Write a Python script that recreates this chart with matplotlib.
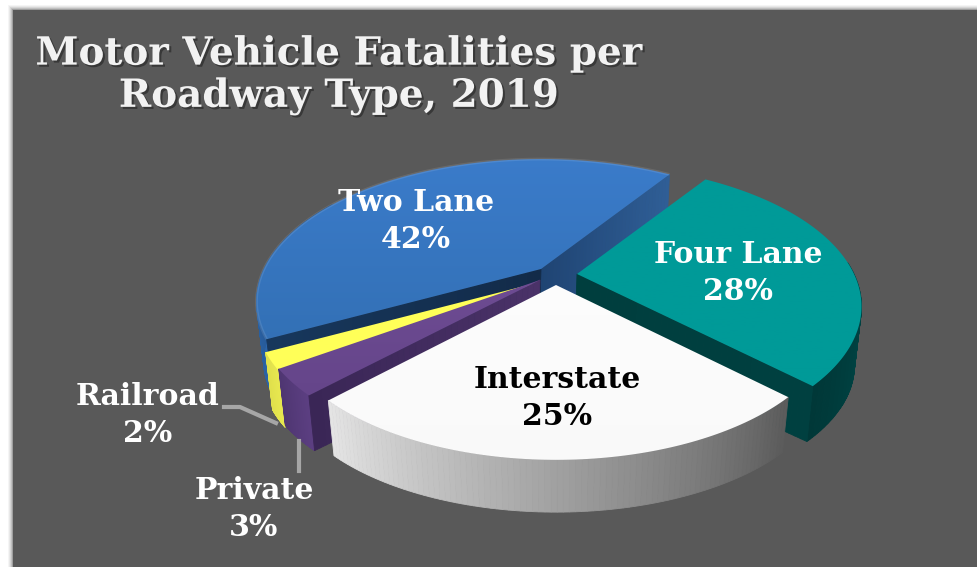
import numpy as np
import matplotlib
matplotlib.use("Agg")
import matplotlib.pyplot as plt
import matplotlib.patheffects as pe
from matplotlib.colors import LinearSegmentedColormap
from matplotlib.patches import Polygon, Rectangle

# data, clockwise from the Four Lane slice
categories = ["Four Lane", "Interstate", "Private", "Railroad", "Two Lane"]
shares = [28, 25, 3, 2, 42]
title = "Motor Vehicle Fatalities per\nRoadway Type, 2019"

# look of the fake 3d pie, in pixels
START = 33.5
RX, RY, PERSP = 277.0, 135.0, 0.228
DEPTH, SHRINK_X, SHRINK_Y = 61.0, 0.975, 0.95
apex = {"Four Lane": (577, 274), "Interstate": (556, 285), "Private": (540, 280),
        "Railroad": (540, 282), "Two Lane": (541, 269)}
x_scale = {"Four Lane": 1.0, "Interstate": 0.985, "Private": 1.0, "Railroad": 1.0, "Two Lane": 1.0}
top_col = {"Four Lane": ["#009a98", "#009a98"], "Interstate": ["#ffffff", "#f9f9f9"],
           "Private": ["#77529c", "#5f4184"], "Railroad": ["#ffff58", "#ffff58"],
           "Two Lane": ["#3b7ccb", "#2d68a6"]}
side_col = {"Four Lane": ["#004c4c", "#003838"], "Interstate": ["#e4e4e4", "#5c5c5c"],
            "Private": ["#5c3f82", "#4f3672"], "Railroad": ["#e8e850", "#e0e04c"],
            "Two Lane": ["#2d66aa", "#1d4a80"]}
rim_alpha = {"Four Lane": 0.0, "Interstate": 0.0, "Private": 0.0, "Railroad": 0.0, "Two Lane": 0.1}
label_pos = {"Four Lane": (738, 273), "Interstate": (557, 398), "Private": (254, 509),
             "Railroad": (148, 415), "Two Lane": (416, 221)}


def project(theta, name, low=False):
    t = np.radians(theta)
    u, v = np.sin(t), -np.cos(t)
    s = 1 / (1 - PERSP * v)
    x, y = RX * x_scale[name] * u * s, RY * v * s
    ax0, ay0 = apex[name]
    if low:
        return ax0 + x * SHRINK_X, ay0 + y * SHRINK_Y + DEPTH
    return ax0 + x, ay0 + y


def strips(ax, top_pts, low_pts, cols, z):
    cmap = LinearSegmentedColormap.from_list("s", cols)
    n = len(top_pts) - 1
    for i in range(n):
        c = cmap(i / max(n - 1, 1))
        ax.add_patch(Polygon([top_pts[i], top_pts[i + 1], low_pts[i + 1], low_pts[i]],
                             closed=True, fc=c, ec=c, lw=0.6, zorder=z))


def outer_side(ax, name, a0, a1, z):
    th = np.linspace(a0, a1, 90)
    strips(ax, [project(t, name) for t in th], [project(t, name, True) for t in th],
           side_col[name], z)


def inner_face(ax, name, theta, cols, z):
    p0, p1 = np.array(apex[name], float), np.array(project(theta, name))
    q0, q1 = p0 + (-2, DEPTH), np.array(project(theta, name, True))
    ts = np.linspace(0, 1, 40)
    strips(ax, [p0 + (p1 - p0) * t for t in ts], [q0 + (q1 - q0) * t for t in ts], cols, z)


def top_face(ax, name, a0, a1, z):
    th = np.linspace(a0, a1, 160)
    pts = [apex[name]] + [project(t, name) for t in th]
    poly = Polygon(pts, closed=True, fc="none", ec="none", zorder=z)
    ax.add_patch(poly)
    cmap = LinearSegmentedColormap.from_list("t", top_col[name])
    im = ax.imshow(np.linspace(0, 1, 256).reshape(-1, 1), cmap=cmap, aspect="auto",
                   extent=(200, 900, 480, 150), zorder=z)
    im.set_clip_path(poly)
    # soft rim where the top turns into the side
    if rim_alpha[name] > 0:
        rim = [project(t, name) for t in th]
        ax.plot(*zip(*rim), color="white", alpha=rim_alpha[name], lw=2, zorder=z + 0.1,
                solid_capstyle="butt")


fig = plt.figure(figsize=(9.77, 5.67), dpi=100, facecolor="white")
ax = fig.add_axes([0, 0, 1, 1])
ax.set_axis_off()

# panel with a blurred edge
for off, alpha in [(5, 0.05), (4, 0.07), (3, 0.1), (2, 0.15), (1, 0.25)]:
    ax.add_patch(Rectangle((13 - off, 10 - off), 980, 580, fc="#404040", ec="none",
                           alpha=alpha, zorder=0))
ax.add_patch(Rectangle((13, 10), 980, 580, fc="#595959", ec="none", zorder=0.5))

# slice angles come from the shares
ends = START + np.cumsum(shares) * 3.6
starts = ends - np.array(shares) * 3.6
ang = {c: (s, e) for c, s, e in zip(categories, starts, ends)}

# Two Lane sits at the back
s, e = ang["Two Lane"]
outer_side(ax, "Two Lane", s, s + 60, 2)
inner_face(ax, "Two Lane", e, ["#1f4473", "#2f5e96"], 3)
inner_face(ax, "Two Lane", s, ["#122b49", "#17375c"], 3)
top_face(ax, "Two Lane", s, e, 4)

s, e = ang["Railroad"]
outer_side(ax, "Railroad", s, e, 5)
top_face(ax, "Railroad", s, e, 6)

s, e = ang["Private"]
outer_side(ax, "Private", s, e, 7)
inner_face(ax, "Private", s, ["#4a3268", "#3a2656"], 7.5)
top_face(ax, "Private", s, e, 8)

s, e = ang["Four Lane"]
outer_side(ax, "Four Lane", 85, e, 9)
inner_face(ax, "Four Lane", e, ["#003e3e", "#004040"], 9.5)
top_face(ax, "Four Lane", s, e, 10)

s, e = ang["Interstate"]
outer_side(ax, "Interstate", e, s, 11)
top_face(ax, "Interstate", s, e, 12)

# leader lines
ax.plot([224, 240, 276], [407, 407, 423], color="#a6a6a6", lw=3, zorder=13)
ax.plot([299, 299], [441, 471], color="#a6a6a6", lw=3, zorder=13)

serif = "DejaVu Serif"
ax.text(339, 75, title, ha="center", va="center", family=serif, weight="bold", fontsize=28,
        color="#f2f2f2", linespacing=1.14, zorder=20,
        path_effects=[pe.withSimplePatchShadow(offset=(1.5, -1.5), shadow_rgbFace="#222222", alpha=0.6)])

for name, share in zip(categories, shares):
    col = "black" if name == "Interstate" else "white"
    x, y = label_pos[name]
    ax.text(x, y, f"{name}\n{share}%", ha="center", va="center", family=serif, weight="bold",
            fontsize=21.5, color=col, linespacing=1.32, zorder=20)

ax.set_xlim(0, 977)
ax.set_ylim(567, 0)
fig.savefig("out.png", dpi=100)
